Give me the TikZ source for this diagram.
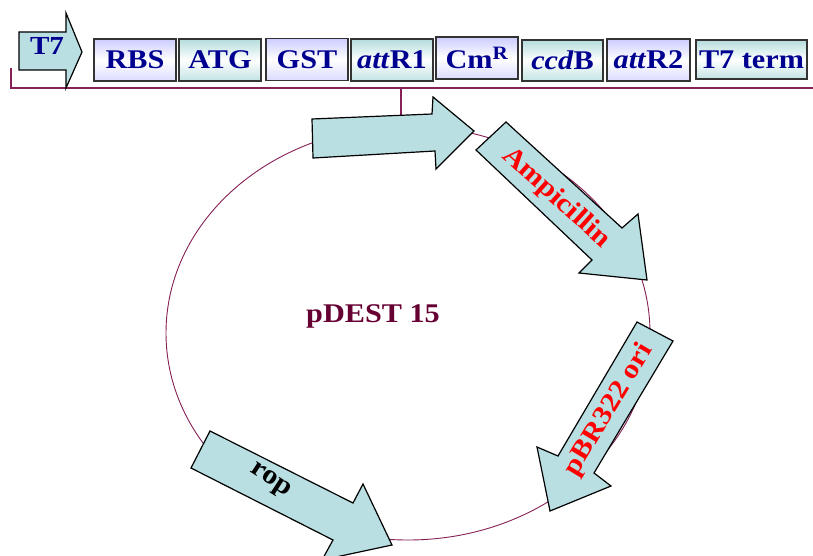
\documentclass[tikz,border=0pt]{standalone}
\usepackage{fontspec}
\setmainfont{Liberation Serif}[FakeStretch=1.12]
\definecolor{plas}{HTML}{862057}
\definecolor{feat}{HTML}{B9DFE2}
\definecolor{navytx}{HTML}{000090}
\definecolor{lavbx}{HTML}{CCCCFF}
\definecolor{tealbx}{HTML}{B4DCDC}
\definecolor{pdest}{HTML}{660033}
\tikzset{
  gbox/.style={draw=black!80, line width=1.3pt, inner sep=0pt,
    minimum height=42pt, minimum width=82pt,
    font=\fontsize{27}{27}\selectfont\bfseries, text=navytx},
  lavbox/.style={gbox, top color=lavbx, bottom color=lavbx!70, middle color=white},
  tealbox/.style={gbox, top color=tealbx, bottom color=tealbx!80, middle color=white},
  arr/.style={fill=feat, draw=black, line width=1.2pt, line join=miter},
  plasline/.style={draw=plas, line width=1.2pt},
  lbl/.style={font=\fontsize{27}{27}\selectfont\bfseries, inner sep=0pt}
}
\begin{document}
\begin{tikzpicture}[x=1pt,y=-1pt]
\useasboundingbox (0,0) rectangle (813,556);
\fill[white] (0,0) rectangle (813,556);
\begin{scope}
\clip (0,0) rectangle (813,556);
% plasmid ring
\draw[draw=plas, line width=0.9pt] (408,333) ellipse [x radius=242pt, y radius=207pt];
% baseline and connector
\coordinate (bl0) at (11,68);
\coordinate (bl1) at (11,88);
\coordinate (bl2) at (813,88);
\coordinate (cn0) at (401,88);
\coordinate (cn1) at (401,117);
\draw[plasline] (bl0) -- (bl1) -- (bl2);
\draw[plasline] (cn0) -- (cn1);
% T7 promoter arrow
\draw[arr] (19,32) -- (66,32) -- (66,13) -- (82,52) -- (66,88) -- (66,70) -- (19,70) -- cycle;
\node[lbl, font=\fontsize{26}{26}\selectfont\bfseries, text=navytx] (t7) at (47,46) {T7};
% boxes
\node[lavbox] (rbs) at (135,60) {RBS};
\node[tealbox] (atg) at (220,60) {ATG};
\node[lavbox] (gst) at (307,59.5) {GST};
\node[tealbox] (attr1) at (392,60) {\textit{att}R1};
\node[lavbox] (cmr) at (477,58) {Cm\textsuperscript{R}};
\node[tealbox, minimum width=81pt, minimum height=41pt] (ccdb) at (562.5,60.5) {\textit{ccd}B};
\node[lavbox, minimum width=83pt] (attr2) at (648.5,60) {\textit{att}R2};
\node[tealbox, minimum width=111pt, minimum height=39pt] (t7term) at (751.5,59.5) {T7 term};
% features on the plasmid
\draw[arr] (312,119) -- (432,114) -- (433,97) -- (474,131) -- (436,169) -- (435,151) -- (313,158) -- cycle;
\draw[arr] (506,122) -- (622,228) -- (638,214) -- (647,280) -- (579,273) -- (592,260) -- (476,150) -- cycle;
\node[lbl, text=red, rotate=-42] (amp) at (556,198) {Ampicillin};
\draw[arr] (637,322) -- (673,341) -- (594,473) -- (611,486) -- (550,511) -- (537,447) -- (558,456) -- cycle;
\node[lbl, text=red, rotate=59] (ori) at (609,410) {pBR322 ori};
\draw[arr] (210,431) -- (353,503) -- (363,484) -- (392,545) -- (322,560) -- (333,540) -- (191,468) -- cycle;
\node[lbl, text=black, rotate=-33] (rop) at (270,481) {rop};
\node[lbl, text=pdest] (name) at (373,316) {pDEST 15};
\end{scope}
\end{tikzpicture}
\end{document}
